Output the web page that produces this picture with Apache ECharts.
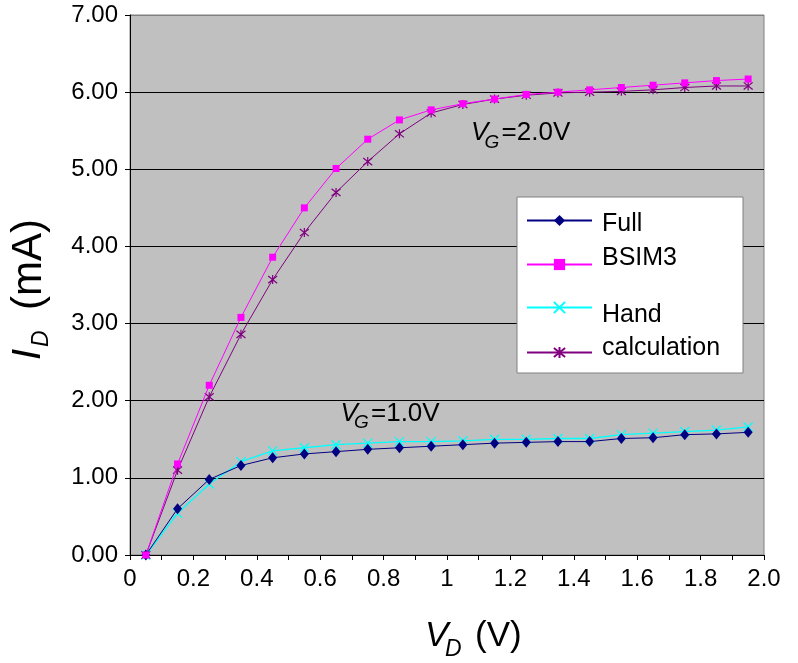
<!DOCTYPE html>
<html><head><meta charset="utf-8">
<script src="https://cdn.jsdelivr.net/npm/echarts@6/dist/echarts.min.js"></script>
<style>html,body{margin:0;padding:0;background:#fff}#c{width:798px;height:663px}</style>
</head><body><div id="c"></div><script>
const FONT = '"Liberation Sans", Arial, sans-serif';
const xValues = [0.05,0.15,0.25,0.35,0.45,0.55,0.65,0.75,0.85,0.95,1.05,1.15,1.25,1.35,1.45,1.55,1.65,1.75,1.85,1.95];
const fullVals  = [0,0.60,0.98,1.16,1.26,1.31,1.34,1.37,1.39,1.41,1.43,1.45,1.46,1.47,1.47,1.51,1.52,1.56,1.57,1.59];
const bsim3Vals = [0,1.18,2.20,3.08,3.86,4.50,5.01,5.39,5.64,5.77,5.85,5.91,5.97,6.00,6.03,6.06,6.09,6.12,6.15,6.17];
const handVals  = [0,0.54,0.92,1.21,1.35,1.39,1.43,1.45,1.47,1.47,1.48,1.50,1.50,1.51,1.51,1.56,1.58,1.60,1.62,1.66];
const calcVals  = [0,1.10,2.05,2.86,3.57,4.18,4.70,5.10,5.46,5.73,5.84,5.91,5.96,5.99,6.00,6.01,6.03,6.06,6.08,6.08];
const seriesNames = ['Full','BSIM3','Hand','calculation'];
const yTicks = [0,1,2,3,4,5,6,7];
const xTicks = [0,0.2,0.4,0.6,0.8,1,1.2,1.4,1.6,1.8,2.0];

const pair = v => xValues.map((x,i)=>[x, v[i]]);
const chart = echarts.init(document.getElementById('c'), null, {renderer:'canvas'});

function mkLegend(name, markerY, padTop, padBottom){
  const h = 26 + padTop + padBottom;
  return {data:[name], orient:'vertical', left:526, top: markerY - h/2, padding:0,
    itemWidth:65, itemHeight:14, selectedMode:false, z:20,
    formatter: n => '{t|' + n + '}',
    textStyle:{fontSize:25, fontFamily:FONT, color:'#000', lineHeight:26,
      rich:{t:{fontSize:25, fontFamily:FONT, color:'#000', lineHeight:26, padding:[padTop,0,padBottom,5]}}}};
}

chart.setOption({
  animation:false,
  grid:{left:130, right:34, top:15, bottom:108, show:true, backgroundColor:'#c0c0c0', borderColor:'#808080', borderWidth:1},
  xAxis:{type:'value', min:xTicks[0], max:xTicks[xTicks.length-1], interval:0.2,
    axisLine:{show:true, onZero:false, lineStyle:{color:'#000', width:1}},
    axisTick:{show:true, length:5, lineStyle:{color:'#000'}},
    minorTick:{show:true, splitNumber:2, length:5, lineStyle:{color:'#000'}},
    splitLine:{show:false},
    axisLabel:{fontSize:24, fontFamily:FONT, color:'#000', margin:12,
      formatter: v => (Math.abs(v-2)<1e-9 ? '2.0' : String(+v.toFixed(1)))}
  },
  yAxis:{type:'value', min:yTicks[0], max:yTicks[yTicks.length-1], interval:1,
    axisLine:{show:true, lineStyle:{color:'#000', width:1}},
    axisTick:{show:true, length:5, lineStyle:{color:'#000'}},
    splitLine:{show:true, lineStyle:{color:['#000','#000','#000','#000','#000','#000','#000','#808080'], width:1}},
    axisLabel:{fontSize:24, fontFamily:FONT, color:'#000', margin:12, formatter: v => v.toFixed(2)}
  },
  legend:[mkLegend(seriesNames[0],221,8,0), mkLegend(seriesNames[1],265,0,12), mkLegend(seriesNames[2],308,16,0), mkLegend(seriesNames[3],353,0,8)],
  series:[
    {name:seriesNames[0], type:'line', data:pair(fullVals), symbol:'diamond', symbolSize:[9,11],
      itemStyle:{color:'#000080'}, lineStyle:{color:'#000080', width:1}, emphasis:{disabled:true}, z:3},
    {name:seriesNames[1], type:'line', data:pair(bsim3Vals), symbol:'rect', symbolSize:7,
      itemStyle:{color:'#ff00ff'}, lineStyle:{color:'#ff00ff', width:1}, emphasis:{disabled:true}, z:3},
    {name:seriesNames[2], type:'line', data:pair(handVals), symbol:'path://M0,0L10,10M10,0L0,10', symbolSize:9,
      itemStyle:{color:'#00ffff', borderColor:'#00ffff', borderWidth:1.3}, lineStyle:{color:'#00ffff', width:1.3}, emphasis:{disabled:true}, z:2},
    {name:seriesNames[3], type:'line', data:pair(calcVals), symbol:'path://M0,1L10,9M10,1L0,9M5,0L5,10', symbolSize:9,
      itemStyle:{color:'#800080', borderColor:'#800080', borderWidth:1.2}, lineStyle:{color:'#800080', width:1}, emphasis:{disabled:true}, z:2}
  ]
});

function vgLabel(anchor, rest){
  const p = chart.convertToPixel({gridIndex:0}, anchor);
  return [
    {type:'text', x:p[0], y:p[1], z:30, style:{text:'V', font:'italic 26px '+FONT, fill:'#000', verticalAlign:'middle'}},
    {type:'text', x:p[0]+13.5, y:p[1]+9.3, z:30, style:{text:'G', font:'italic 19px '+FONT, fill:'#000', verticalAlign:'middle'}},
    {type:'text', x:p[0]+30.5, y:p[1], z:30, style:{text:rest, font:'26px '+FONT, fill:'#000', verticalAlign:'middle'}}
  ];
}

const graphics = [
  {type:'rect', x:517, y:197, z:10, shape:{x:0,y:0,width:226,height:176}, style:{fill:'#fff', stroke:'#808080', lineWidth:1}},
  ...vgLabel([1.076,5.47], '=2.0V'),
  ...vgLabel([0.664,1.83], '=1.0V'),
  // x axis title
  {type:'text', x:425, y:636, z:30, style:{text:'V', font:'italic 35px '+FONT, fill:'#000', verticalAlign:'middle'}},
  {type:'text', x:445, y:650, z:30, style:{text:'D', font:'italic 23px '+FONT, fill:'#000', verticalAlign:'middle'}},
  {type:'text', x:475, y:636, z:30, style:{text:'(V)', font:'35px '+FONT, fill:'#000', verticalAlign:'middle'}},
  // y axis title (rotated)
  {type:'group', x:43, y:360, rotation:Math.PI/2, z:30, children:[
    {type:'text', x:0, y:-14, style:{text:'I', font:'italic 40px '+FONT, fill:'#000', verticalAlign:'middle'}},
    {type:'text', x:13, y:-1, style:{text:'D', font:'italic 23px '+FONT, fill:'#000', verticalAlign:'middle'}},
    {type:'text', x:50, y:-14, style:{text:'(mA)', font:'42px '+FONT, fill:'#000', verticalAlign:'middle'}}
  ]}
];
chart.setOption({graphic:graphics});
</script></body></html>
